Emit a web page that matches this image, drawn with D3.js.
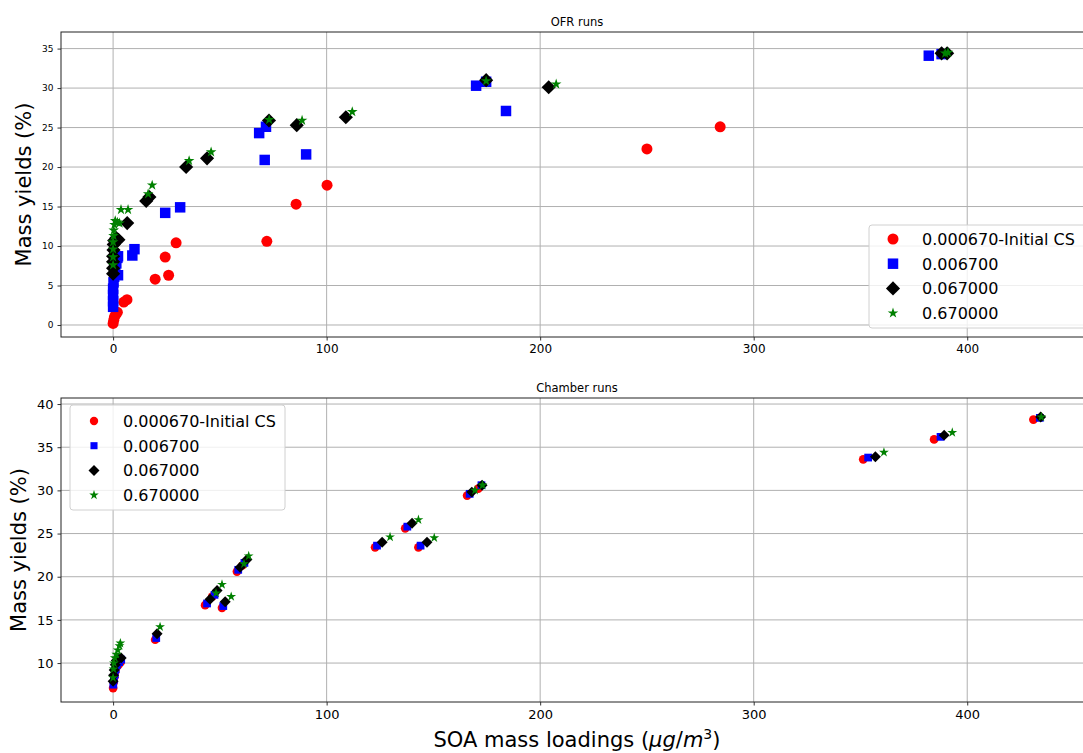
<!DOCTYPE html>
<html>
<head>
<meta charset="utf-8">
<script src="https://cdn.jsdelivr.net/npm/d3@7"></script>
<style>
  body { margin: 0; background: #fff; }
  text { font-family: "DejaVu Sans", sans-serif; fill: #000; }
</style>
</head>
<body>
<div id="chart"></div>
<script>
// series labels, shared by both panels
var seriesNames = ['0.000670-Initial CS', '0.006700', '0.067000', '0.670000'];
var seriesColors = ['red', 'blue', 'black', 'green'];
var seriesShapes = ['circle', 'square', 'diamond', 'star'];

// OFR runs: [SOA mass loading, mass yield %]
var ofrRed = [[0, 0.2], [0.3, 0.6], [0.6, 1.0], [1.2, 1.3], [2, 1.6], [5, 2.9], [6.5, 3.2],
  [19.7, 5.8], [24.4, 8.6], [26, 6.3], [29.5, 10.4], [72, 10.6], [85.7, 15.3], [100.2, 17.7],
  [250, 22.3], [284.3, 25.1]];
var ofrBlue = [[0, 2.3], [0, 3.0], [0, 3.8], [0, 4.6], [0.2, 5.4], [0.5, 6.1], [2.3, 6.3], [1, 7.0],
  [1.5, 7.8], [2, 8.5], [2.3, 8.7], [9, 8.8], [10, 9.6], [24.4, 14.2], [31.4, 14.9], [68.4, 24.3],
  [71.6, 25.1], [71, 20.9], [90.4, 21.6], [170, 30.3], [174.7, 30.8], [184, 27.1], [382, 34.1], [388, 34.3]];
var ofrBlack = [[0, 6.5], [0, 7.2], [0, 8.0], [0, 8.7], [0.2, 9.5], [0.3, 10.2], [0.5, 10.7], [1.5, 11.0],
  [2.5, 10.8], [6.6, 12.9], [15.5, 15.7], [17, 16.2], [34.2, 20.0], [44, 21.1], [73, 25.9], [86, 25.3],
  [109, 26.3], [174.7, 31.0], [204, 30.1], [388, 34.4], [390.6, 34.4]];
var ofrGreen = [[0, 7.6], [0, 8.6], [0, 9.6], [0, 10.5], [0.2, 11.3], [0.3, 12.0], [0.6, 12.7], [1, 13.2],
  [2, 13.0], [3, 12.9], [3.7, 14.6], [7, 14.6], [16.4, 16.6], [18.3, 17.7], [35.6, 20.8], [45.9, 21.9],
  [73.1, 26.0], [88.5, 25.9], [112, 27.0], [174.7, 30.9], [207.5, 30.5], [389.7, 34.4], [391, 34.5]];

// Chamber runs
var chRed = [[0, 7.1], [0.3, 7.8], [0.6, 8.4], [1, 9.0], [1.5, 9.5], [2.5, 9.8], [3.5, 10.1],
  [19.7, 12.7], [43.1, 16.7], [46.4, 17.7], [51, 16.4], [58, 20.6], [60.5, 21.3], [122.7, 23.4],
  [136.8, 25.6], [143, 23.4], [165.8, 29.4], [171, 30.2], [351.3, 33.6], [384.5, 35.9], [431, 38.2]];
var chBlue = [[0.1, 7.5], [0.4, 8.1], [0.8, 8.7], [1.2, 9.3], [1.8, 9.8], [2.8, 10.1], [3.8, 10.4],
  [20.2, 12.9], [44, 16.9], [47.5, 17.9], [51.6, 16.6], [58.6, 20.8], [61.5, 21.6], [123.6, 23.6],
  [137.8, 25.8], [144, 23.6], [167, 29.6], [172.5, 30.6], [353.6, 33.8], [387.5, 36.2], [434, 38.4]];
var chBlack = [[0, 7.9], [0.2, 8.6], [0.5, 9.2], [1, 9.8], [1.5, 10.3], [2.5, 10.5], [3.8, 10.6],
  [20.6, 13.4], [45.4, 17.4], [48.7, 18.4], [52.5, 17.1], [59.5, 21.1], [62.7, 22.0], [126, 24.0],
  [140, 26.2], [147, 24.0], [168, 29.8], [172.8, 30.6], [357, 33.9], [389.2, 36.4], [434.4, 38.5]];
var chGreen = [[0, 8.3], [0.2, 9.3], [0.4, 10.0], [0.8, 10.6], [1.5, 11.0], [2.2, 11.5], [3, 12.0],
  [3.4, 12.3], [22, 14.2], [48.2, 18.1], [51, 19.1], [55.3, 17.7], [61.3, 21.5], [63.5, 22.4],
  [129.7, 24.6], [143, 26.6], [150.4, 24.5], [169.5, 30.0], [173, 30.6], [361, 34.4], [393, 36.7],
  [434.7, 38.5]];

var xTicks = [0, 100, 200, 300, 400];
var ofrYTicks = [0, 5, 10, 15, 20, 25, 30, 35];
var chYTicks = [10, 15, 20, 25, 30, 35, 40];

var W = 1083, H = 753;
var svg = d3.select('#chart').append('svg').attr('width', W).attr('height', H);

var symbolTypes = {
  circle: d3.symbolCircle,
  square: d3.symbolSquare,
  diamond: d3.symbolSquare,
  star: d3.symbolStar
};

function drawPanel(opt) {
  var x = d3.scaleLinear().domain([-24.4, 457.5]).range([opt.left, opt.right]);
  var y = d3.scaleLinear().domain(opt.yDomain).range([opt.bottom, opt.top]);
  var g = svg.append('g');

  // grid
  g.append('g').selectAll('line').data(xTicks).enter().append('line')
    .attr('x1', function (d) { return x(d); }).attr('x2', function (d) { return x(d); })
    .attr('y1', opt.top).attr('y2', opt.bottom)
    .attr('stroke', '#b0b0b0').attr('stroke-width', 1);
  g.append('g').selectAll('line').data(opt.yTicks).enter().append('line')
    .attr('x1', opt.left).attr('x2', opt.right)
    .attr('y1', function (d) { return y(d); }).attr('y2', function (d) { return y(d); })
    .attr('stroke', '#b0b0b0').attr('stroke-width', 1);

  // axes
  var xa = g.append('g').attr('transform', 'translate(0,' + opt.bottom + ')')
    .call(d3.axisBottom(x).tickValues(xTicks).tickSize(3.5).tickPadding(4));
  xa.select('.domain').remove();
  xa.selectAll('text').attr('font-size', opt.xTickFont + 'px').style('font-family', '"DejaVu Sans", sans-serif');
  var ya = g.append('g').attr('transform', 'translate(' + opt.left + ',0)')
    .call(d3.axisLeft(y).tickValues(opt.yTicks).tickSize(3.5).tickPadding(4));
  ya.select('.domain').remove();
  ya.selectAll('text').attr('font-size', opt.yTickFont + 'px').style('font-family', '"DejaVu Sans", sans-serif');
  g.selectAll('.tick line').attr('stroke', '#000').attr('stroke-width', 0.8);

  // marks
  opt.series.forEach(function (data, i) {
    var shape = seriesShapes[i];
    var sym = d3.symbol().type(symbolTypes[shape]).size(opt.sizes[i]);
    g.append('g').selectAll('path').data(data).enter().append('path')
      .attr('d', sym)
      .attr('transform', function (d) {
        return 'translate(' + x(d[0]) + ',' + y(d[1]) + ')' + (shape === 'diamond' ? ' rotate(45)' : '');
      })
      .attr('fill', seriesColors[i]);
  });

  // frame
  g.append('rect').attr('x', opt.left).attr('y', opt.top)
    .attr('width', opt.right - opt.left).attr('height', opt.bottom - opt.top)
    .attr('fill', 'none').attr('stroke', '#222').attr('stroke-width', 1);

  // title
  g.append('text').attr('x', 577).attr('y', opt.top - 6)
    .attr('text-anchor', 'middle').attr('font-size', '11.5px').text(opt.title);

  // y label
  g.append('text')
    .attr('transform', 'translate(' + opt.yLabelX + ',' + ((opt.top + opt.bottom) / 2) + ') rotate(-90)')
    .attr('text-anchor', 'middle').attr('font-size', '21px').text('Mass yields (%)');

  // legend
  var L = opt.legend;
  var lg = g.append('g');
  lg.append('rect').attr('x', L.x).attr('y', L.y).attr('width', L.w).attr('height', L.h)
    .attr('rx', 3).attr('fill', 'white').attr('fill-opacity', 0.8)
    .attr('stroke', '#d0d0d0').attr('stroke-width', 1);
  seriesNames.forEach(function (name, i) {
    var cy = L.y + L.first + i * L.step;
    var shape = seriesShapes[i];
    var sym = d3.symbol().type(symbolTypes[shape]).size(L.sizes[i]);
    lg.append('path').attr('d', sym)
      .attr('transform', 'translate(' + (L.x + 24) + ',' + cy + ')' + (shape === 'diamond' ? ' rotate(45)' : ''))
      .attr('fill', seriesColors[i]);
    lg.append('text').attr('x', L.x + 53).attr('y', cy + 6)
      .attr('font-size', '16px').text(name);
  });
}

drawPanel({
  title: 'OFR runs',
  left: 61, right: 1090, top: 32, bottom: 337,
  yDomain: [-1.52, 37.1], yTicks: ofrYTicks,
  xTickFont: 12, yTickFont: 9,
  yLabelX: 31,
  series: [ofrRed, ofrBlue, ofrBlack, ofrGreen],
  sizes: [95, 110, 100, 35],
  legend: { x: 869, y: 225, w: 230, h: 103, first: 14, step: 24.7, sizes: [95, 110, 100, 35] }
});

drawPanel({
  title: 'Chamber runs',
  left: 61, right: 1090, top: 398, bottom: 702,
  yDomain: [5.49, 40.7], yTicks: chYTicks,
  xTickFont: 13, yTickFont: 13,
  yLabelX: 26,
  series: [chRed, chBlue, chBlack, chGreen],
  sizes: [60, 60, 60, 30],
  legend: { x: 70, y: 405, w: 215, h: 105, first: 16, step: 24.7, sizes: [55, 50, 60, 28] }
});

// shared x label
svg.append('text').attr('x', 577).attr('y', 747).attr('text-anchor', 'middle')
  .attr('font-size', '21px')
  .html('SOA mass loadings (<tspan font-style="italic">μg</tspan>/<tspan font-style="italic">m</tspan><tspan font-size="14px" dy="-8">3</tspan><tspan dy="8">)</tspan>');
</script>
</body>
</html>
